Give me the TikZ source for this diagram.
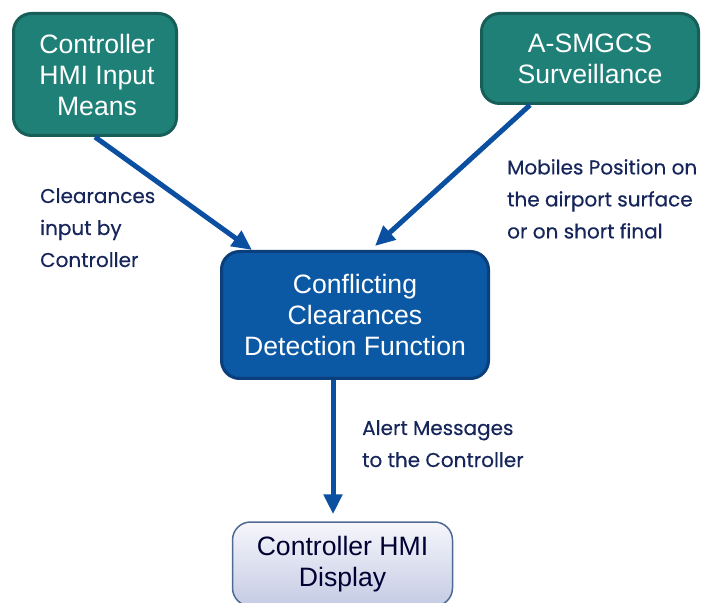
\documentclass[tikz,border=0pt]{standalone}
\usepackage{fontspec}
\setmainfont{Liberation Sans}
\newfontfamily\notefont[FakeBold=0.4]{Poppins}
\usetikzlibrary{arrows.meta,calc}
\definecolor{tealfill}{HTML}{1F8078}
\definecolor{tealline}{HTML}{175E58}
\definecolor{bluefill}{HTML}{0B58A5}
\definecolor{blueline}{HTML}{0A3F7C}
\definecolor{flowblue}{HTML}{0B50A0}
\definecolor{notenavy}{HTML}{16265A}
\definecolor{displine}{HTML}{4E6A92}
\definecolor{disptop}{HTML}{F6F6FB}
\definecolor{dispbot}{HTML}{C4CBE4}
\begin{document}
\begin{tikzpicture}[x=1pt,y=1pt,
    box/.style={rounded corners=18pt, line width=3pt, align=center, inner sep=0pt,
        font=\fontsize{26.6}{31}\selectfont},
    srcbox/.style={box, fill=tealfill, draw=tealline, text=white},
    funcbox/.style={box, fill=bluefill, draw=blueline, text=white},
    dispbox/.style={box, line width=1.5pt, draw=displine, top color=disptop,
        bottom color=dispbot, text=black!80!blue},
    flow/.style={draw=flowblue, line width=5pt, -{Triangle[length=20pt,width=18pt]}},
    note/.style={anchor=north west, align=left, inner sep=0pt, text=notenavy,
        font=\notefont\fontsize{20}{32}\selectfont}]
    \useasboundingbox (0,0) rectangle (703,602);
    \clip (0,0) rectangle (703,602);

    % Caixas
    \node[srcbox, minimum width=163pt, minimum height=122pt] (hmi) at (95,527.5)
        {\hspace*{4pt}Controller\\\hspace*{4pt}HMI Input\\\hspace*{4pt}Means};
    \node[srcbox, minimum width=217pt, minimum height=90pt] (smgcs) at (590,543.5)
        {A-SMGCS\\Surveillance};
    \node[funcbox, minimum width=267pt, minimum height=127pt] (ccd) at (355,287)
        {Conflicting\\Clearances\\Detection Function};
    \node[dispbox, minimum width=220pt, minimum height=84pt] (disp) at (342.5,38)
        {Controller HMI\\Display};

    % Setas
    \draw[flow] (hmi.south) -- ($(ccd.north west)+(32,0)$);
    \draw[flow] ($(smgcs.south)+(-60,0)$) -- ($(ccd.north)+(20,4)$);
    \draw[flow] ($(ccd.south)+(-22,0)$) -- ($(disp.north)+(-9.5,7)$);

    % Textos
    \node[note] (clr) at (40,414) {Clearances\\input by\\Controller};
    \node[note] (pos) at (507,443) {Mobiles Position on\\the airport surface\\or on short final};
    \node[note] (alr) at (362,182) {Alert Messages\\to the Controller};
\end{tikzpicture}
\end{document}
